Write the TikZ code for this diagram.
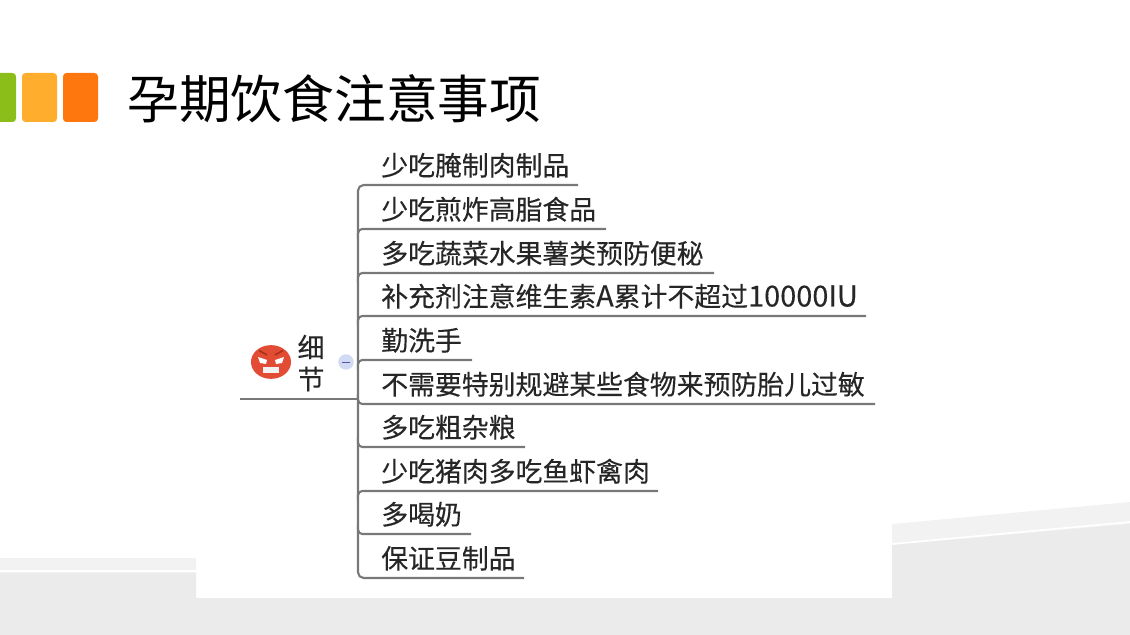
\documentclass[tikz,border=0pt]{standalone}
\usepackage{fontspec}
\usepackage{xcolor}
\usetikzlibrary{shapes.geometric}
\setmainfont{Noto Sans CJK SC}
\newfontfamily\itemfont[FakeBold=0.25]{Noto Sans CJK SC}
\definecolor{bandgray}{RGB}{235, 235, 235}
\definecolor{bandlight}{RGB}{242, 242, 242}
\definecolor{linegray}{RGB}{120, 120, 120}
\definecolor{tabgreen}{RGB}{140, 190, 25}
\definecolor{tabyellow}{RGB}{254, 174, 44}
\definecolor{tabred}{RGB}{254, 118, 14}
\definecolor{facered}{RGB}{226, 76, 52}
\definecolor{browred}{RGB}{170, 50, 25}
\definecolor{foldblue}{RGB}{208, 218, 242}
\tikzset{
    tabbox/.style={rounded corners=2.5pt, inner sep=0pt},
    itemtext/.style={anchor=base west, inner sep=0pt, text=black!85, font=\itemfont\fontsize{19.1}{21}\selectfont},
    itemline/.style={draw=linegray, line width=1.5pt},
}
\begin{document}
\begin{tikzpicture}[x=0.025cm, y=-0.025cm]
    \useasboundingbox (0,0) rectangle (1130,635);

    % background bands
    \fill[bandlight] (0,558) -- (196,558) -- (196,598) -- (892,598) -- (892,524) -- (1130,502) -- (1130,635) -- (0,635) -- cycle;
    \fill[bandgray] (0,573) -- (196,573) -- (196,598) -- (892,598) -- (892,545) -- (1130,524) -- (1130,635) -- (0,635) -- cycle;
    \draw[white, line width=1.2pt] (0,571) -- (196,571);
    \draw[white, line width=1.2pt] (892,544) -- (1130,522);

    % title tabs
    \fill[tabgreen, tabbox] (-10,73) rectangle (16,122);
    \fill[tabyellow, tabbox] (22,73) rectangle (57,122);
    \fill[tabred, tabbox] (63,73) rectangle (98,122);
    \node[anchor=base west, inner sep=0pt, font=\fontsize{36.8}{40}\selectfont] (title) at (127,119) {孕期饮食注意事项};

    % root
    \coordinate (rootl) at (240,399);
    \coordinate (rootr) at (358,399);
    \draw[itemline] (rootl) -- (rootr);
    \node[ellipse, fill=facered, minimum width=28.5pt, minimum height=24pt, inner sep=0pt] (face) at (271,362) {};
    \fill[white] (258,357) -- (267,360) -- (266,364) -- (260,363) -- cycle;
    \fill[white] (284,357) -- (275,360) -- (276,364) -- (282,363) -- cycle;
    \fill[white!90!gray] (263,367.5) rectangle (279,373.5);
    \draw[browred, line width=1.2pt] (259,350.5) -- (267,355);
    \draw[browred, line width=1.2pt] (283,350.5) -- (275,355);
    \node[itemtext, anchor=center] (root1) at (311,347) {细};
    \node[itemtext, anchor=center] (root2) at (311,379) {节};
    \node[circle, fill=foldblue, minimum size=11pt, inner sep=0pt] (fold) at (346,362) {};
    \draw[blue!35!gray, line width=0.4pt] (342,362) -- (350,362);

    % items
    \coordinate (toptick) at (358,185);
    \coordinate (topend) at (578,185);
    \coordinate (bottick) at (358,578);
    \coordinate (botend) at (524,578);
    \draw[itemline, rounded corners=4pt] (topend) -- (toptick) -- (bottick) -- (botend);
    \foreach \name/\base/\lineend/\bend/\label in {
        i2/219.5/606/4/少吃煎炸高脂食品,
        i3/263.5/714/4/多吃蔬菜水果薯类预防便秘,
        i4/306.5/866/4/补充剂注意维生素{\fontsize{20.6}{21}\selectfont A}累计不超过{\fontsize{20.6}{21}\selectfont 10000IU},
        i5/350.5/472/4/勤洗手,
        i6/394.5/875/-4/不需要特别规避某些食物来预防胎儿过敏,
        i7/437.5/525/-4/多吃粗杂粮,
        i8/481.5/658/4/少吃猪肉多吃鱼虾禽肉,
        i9/524.5/471/-4/多喝奶} {
        \node[itemtext] (\name) at (381,\base) {\label};
        \pgfmathsetmacro{\liney}{round(\base+9.5)}
        \pgfmathsetmacro{\bendy}{\liney+\bend}
        \coordinate (\name end) at (\lineend,\liney);
        \coordinate (\name tick) at (358,\liney);
        \coordinate (\name stem) at (358,\bendy);
        \draw[itemline, rounded corners=3pt] (\name end) -- (\name tick) -- (\name stem);
    }
    \node[itemtext] (i1) at (381,175.5) {少吃腌制肉制品};
    \node[itemtext] (i10) at (381,568.5) {保证豆制品};
\end{tikzpicture}
\end{document}
